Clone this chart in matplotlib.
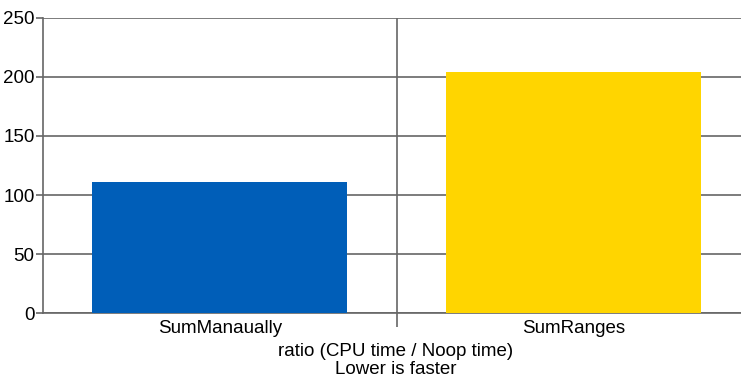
import matplotlib.pyplot as plt

# -------------------- DATA --------------------
categories = ["SumManaually", "SumRanges"]
values = [111.3, 204.1]
colors = ["#005EB8", "#FFD500"]
y_ticks = [0, 50, 100, 150, 200, 250]
x_label = "ratio (CPU time / Noop time)\nLower is faster"

# -------------------- FONT --------------------
plt.rcParams["font.family"] = ["Liberation Sans", "DejaVu Sans"]

# -------------------- FIGURE --------------------
fig = plt.figure(figsize=(7.41, 3.78), dpi=100)
W, H = 741, 378
left, right, top, bottom = 43, 750, 17.7, 313.3
ax = fig.add_axes([left / W, 1 - bottom / H, (right - left) / W, (bottom - top) / H])

x = list(range(len(categories)))
ax.bar(x, values, width=0.72, color=colors, zorder=3)

ax.set_xlim(-0.5, len(categories) - 0.5)
ax.set_ylim(0, 250)
ax.set_yticks(y_ticks)
ax.set_xticks(x)
ax.set_xticklabels(categories)
ax.set_xticks([i + 0.5 for i in x[:-1]], minor=True)

gc = "#666666"
ax.grid(axis="y", color=gc, linewidth=1.2, zorder=0)
ax.grid(axis="x", which="minor", color=gc, linewidth=1.2, zorder=0)
ax.tick_params(axis="y", length=5, color=gc, width=1.2, labelsize=13.5, pad=1)
ax.tick_params(axis="x", which="major", length=0, labelsize=13.5, pad=5)
ax.tick_params(axis="x", which="minor", length=10, color=gc, width=1.2)

for s in ["top", "right"]:
    ax.spines[s].set_visible(False)
for s in ["left", "bottom"]:
    ax.spines[s].set_color(gc)
    ax.spines[s].set_linewidth(1.2)

ax.set_xlabel(x_label, fontsize=13.5, linespacing=1.1)
ax.xaxis.set_label_coords((396 - left) / (right - left), -0.1, transform=ax.transAxes)
ax.xaxis.label.set_verticalalignment("top")

fig.savefig("out.png", dpi=100)
